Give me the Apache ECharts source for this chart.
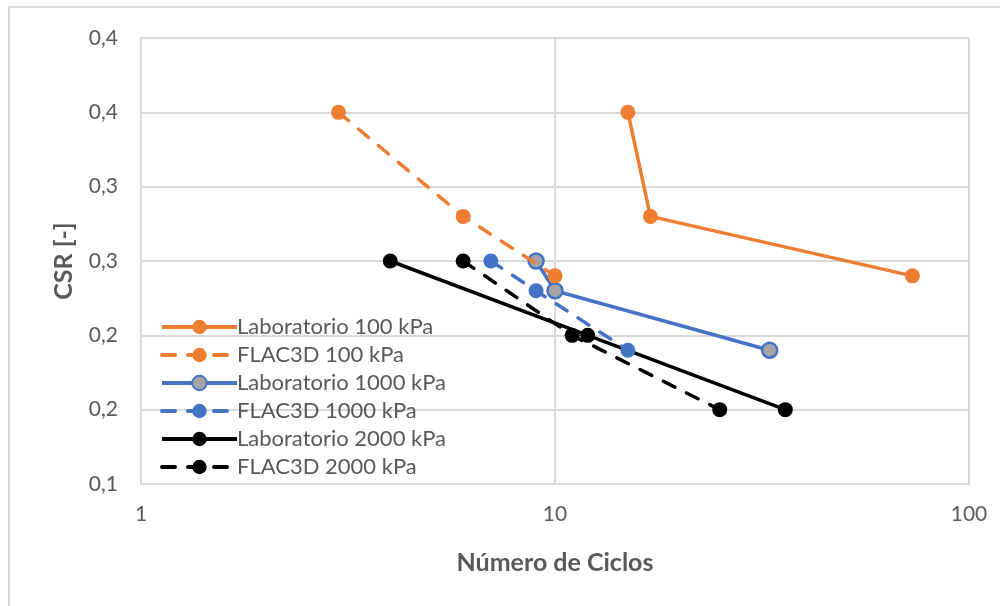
<!DOCTYPE html>
<html><head><meta charset="utf-8">
<script src="https://cdn.jsdelivr.net/npm/echarts@6/dist/echarts.min.js"></script>
<style>html,body{margin:0;padding:0;background:#fff}#c{width:1000px;height:606px}</style>
</head><body><div id="c"></div>
<script>
const seriesNames = ['Laboratorio 100 kPa','FLAC3D 100 kPa','Laboratorio 1000 kPa','FLAC3D 1000 kPa','Laboratorio 2000 kPa','FLAC3D 2000 kPa'];
const lab100X = [15, 17, 73];
const lab100Y = [0.35, 0.28, 0.24];
const flac100X = [3, 6, 10];
const flac100Y = [0.35, 0.28, 0.24];
const lab1000X = [9, 10, 33];
const lab1000Y = [0.25, 0.23, 0.19];
const flac1000X = [7, 9, 15];
const flac1000Y = [0.25, 0.23, 0.19];
const lab2000X = [4, 12, 36];
const lab2000Y = [0.25, 0.20, 0.15];
const flac2000X = [6, 11, 25];
const flac2000Y = [0.25, 0.20, 0.15];
const yTickLabels = ['0,1','0,2','0,2','0,3','0,3','0,4','0,4'];
const xTickLabels = {1:'1', 10:'10', 100:'100'};

const zip = (xs, ys) => xs.map((x, i) => [x, ys[i]]);
const txt = '#595959';
const font = 'Lato, "Open Sans", sans-serif';

function mk(name, xs, ys, color, dashed, fill) {
  return {
    name, type: 'line', data: zip(xs, ys),
    symbol: 'circle', symbolSize: 15,
    lineStyle: { color, width: 3.5, type: dashed ? [13, 13] : 'solid', cap: dashed ? 'round' : 'butt' },
    itemStyle: { color: fill || color, borderColor: color, borderWidth: fill ? 2.5 : 0 },
    emphasis: { disabled: true },
    z: dashed ? 3 : 2
  };
}

const chart = echarts.init(document.getElementById('c'));
chart.setOption({
  animation: false,
  textStyle: { fontFamily: font },
  graphic: [{ type: 'rect', shape: { x: 9, y: 7, width: 1100, height: 800 }, style: { fill: 'none', stroke: '#d9d9d9', lineWidth: 2 }, silent: true }],
  grid: { left: 141, top: 38, width: 828, height: 446, containLabel: false },
  xAxis: {
    type: 'log', logBase: 10, min: 1, max: 100,
    name: 'Número de Ciclos', nameLocation: 'middle', nameGap: 66,
    nameTextStyle: { color: txt, fontSize: 25, fontWeight: 'bold', fontFamily: font },
    axisLine: { show: true, lineStyle: { color: '#d9d9d9', width: 2 } },
    axisTick: { show: false },
    minorTick: { show: false },
    splitLine: { show: true, lineStyle: { color: '#d9d9d9', width: 2 } },
    axisLabel: { color: txt, fontSize: 21, margin: 20, formatter: v => xTickLabels[Math.round(v)] || '' }
  },
  yAxis: {
    type: 'value', min: 0.1, max: 0.4, interval: 0.05,
    name: 'CSR [-]', nameLocation: 'middle', nameGap: 65, nameRotate: 90,
    nameTextStyle: { color: txt, fontSize: 25, fontWeight: 'bold', fontFamily: font },
    axisLine: { show: true, lineStyle: { color: '#d9d9d9', width: 2 } },
    axisTick: { show: false },
    splitLine: { show: true, lineStyle: { color: '#d9d9d9', width: 2 } },
    axisLabel: { color: txt, fontSize: 21, margin: 23, formatter: v => yTickLabels[Math.round((v - 0.1) / 0.05)] }
  },
  legend: {
    orient: 'vertical', left: 155, top: 311, itemGap: 6,
    itemWidth: 75, itemHeight: 18,
    lineStyle: { width: 4 },
    textStyle: { color: txt, fontSize: 22, lineHeight: 22, fontFamily: font, padding: [0, 0, 0, -5] },
    data: seriesNames,
    selectedMode: false
  },
  series: [
    mk(seriesNames[0], lab100X, lab100Y, '#ED7D31', false),
    mk(seriesNames[1], flac100X, flac100Y, '#ED7D31', true),
    mk(seriesNames[2], lab1000X, lab1000Y, '#4472C4', false, '#A5A5A5'),
    mk(seriesNames[3], flac1000X, flac1000Y, '#4472C4', true),
    mk(seriesNames[4], lab2000X, lab2000Y, '#000000', false),
    mk(seriesNames[5], flac2000X, flac2000Y, '#000000', true)
  ]
});
</script></body></html>
